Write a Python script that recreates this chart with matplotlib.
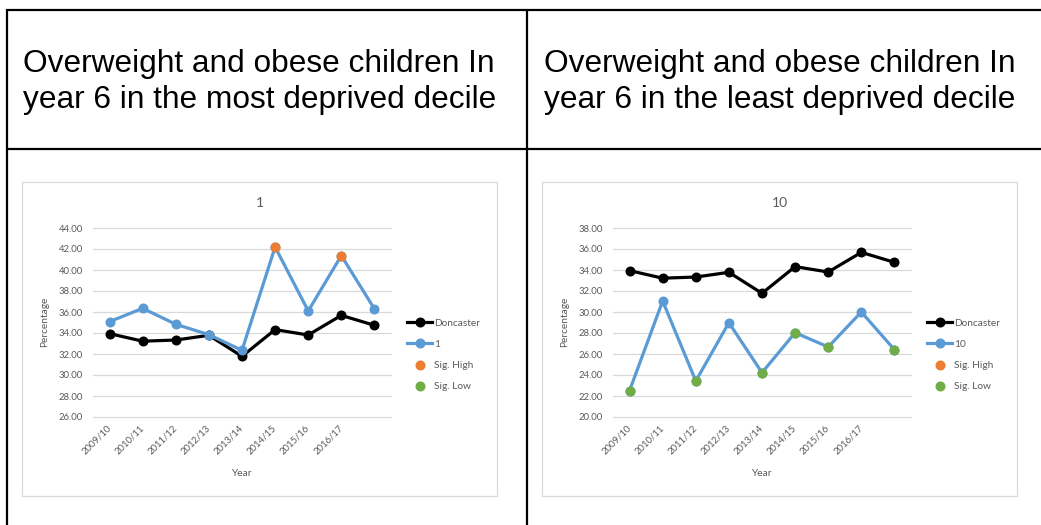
import matplotlib
matplotlib.use("Agg")
import matplotlib.pyplot as plt
from matplotlib.lines import Line2D
from matplotlib.patches import Rectangle
import numpy as np

# ---- data ----
years = ["2009/10", "2010/11", "2011/12", "2012/13", "2013/14",
         "2014/15", "2015/16", "2016/17", ""]
doncaster = [33.94, 33.22, 33.33, 33.78, 31.78, 34.32, 33.81, 35.68, 34.73]
decile_1 = [35.08, 36.35, 34.83, 33.84, 32.35, 42.19, 36.10, 41.37, 36.29]
decile_10 = [22.51, 31.05, 23.43, 28.98, 24.22, 28.03, 26.67, 30.00, 26.41]
# significance flag per year: "H" = sig. high, "L" = sig. low, "" = not sig.
sig_1 = ["", "", "", "", "", "H", "", "H", ""]
sig_10 = ["L", "", "L", "", "L", "L", "L", "", "L"]

headers = [["Overweight and obese children In", "year 6 in the most deprived decile"],
           ["Overweight and obese children In", "year 6 in the least deprived decile"]]

W, H = 1041, 525
BLUE, ORANGE, GREEN = "#5B9BD5", "#ED7D31", "#70AD47"
GREY_TXT = "#595959"
GRID = "#D9D9D9"
CHART_FONT = ["Lato", "DejaVu Sans"]

fig = plt.figure(figsize=(W / 100, H / 100), dpi=100)


def fx(x):
    return x / W


def fy(y):
    return 1 - y / H


def px_rect(left, top, width, height):
    return [left / W, 1 - (top + height) / H, width / W, height / H]


# ---- table frame ----
tbl = dict(color="black", lw=1.6, transform=fig.transFigure, solid_capstyle="butt")
fig.add_artist(Line2D([fx(6), 1.0], [fy(10), fy(10)], **tbl))
fig.add_artist(Line2D([fx(6), 1.0], [fy(149), fy(149)], **tbl))
fig.add_artist(Line2D([fx(7), fx(7)], [fy(9), 0.0], **tbl))
fig.add_artist(Line2D([fx(526.5), fx(526.5)], [fy(9), 0.0], **tbl))

for txt, x0 in zip(headers, [23, 544]):
    fig.text(fx(x0), fy(72), txt[0], fontsize=22.8, family="Liberation Sans",
             va="baseline", ha="left", color="black")
    fig.text(fx(x0), fy(108), txt[1], fontsize=22.8, family="Liberation Sans",
             va="baseline", ha="left", color="black")


def draw_chart(off, title, series, flags, ylo, yhi):
    # chart area border
    fig.add_artist(Rectangle((fx(22 + off), fy(496)), (475) / W, (314) / H,
                             transform=fig.transFigure, fill=False,
                             edgecolor=GRID, lw=0.9))
    ax = fig.add_axes(px_rect(93 + off, 228, 298, 189))
    x = np.arange(len(years))
    ax.plot(x, doncaster, color="black", lw=2.3, marker="o", ms=6.2, zorder=3)
    ax.plot(x, series, color=BLUE, lw=2.3, marker="o", ms=6.2, zorder=4)
    hi = [i for i, f in enumerate(flags) if f == "H"]
    lo = [i for i, f in enumerate(flags) if f == "L"]
    ax.plot(hi, [series[i] for i in hi], ls="none", marker="o", ms=6.2,
            color=ORANGE, zorder=5)
    ax.plot(lo, [series[i] for i in lo], ls="none", marker="o", ms=6.2,
            color=GREEN, zorder=5)

    ax.set_xlim(-0.5, len(years) - 0.5)
    ax.set_ylim(ylo, yhi)
    ax.set_yticks(np.arange(ylo, yhi + 0.1, 2))
    ax.set_yticklabels([f"{v:.2f}" for v in np.arange(ylo, yhi + 0.1, 2)],
                       family=CHART_FONT, fontsize=6.8, color=GREY_TXT)
    ax.set_xticks(x[:8])
    ax.set_xticklabels(years[:8], rotation=45, ha="right", va="center",
                       rotation_mode="anchor", family=CHART_FONT,
                       fontsize=6.8, color=GREY_TXT)
    ax.tick_params(axis="both", length=0)
    ax.tick_params(axis="y", pad=7)
    ax.tick_params(axis="x", pad=7)
    for s in ax.spines.values():
        s.set_visible(False)
    ax.grid(axis="y", color=GRID, lw=0.9)
    for gl in ax.get_ygridlines():
        gl.set_clip_on(False)
    ax.set_axisbelow(True)

    fig.text(fx(259.5 + off), fy(203), title, ha="center", va="center",
             fontsize=10, family=CHART_FONT, color=GREY_TXT)
    fig.text(fx(45 + off), fy(322), "Percentage", ha="center", va="center",
             rotation=90, fontsize=7.3, family=CHART_FONT, color=GREY_TXT)
    fig.text(fx(241 + off), fy(473), "Year", ha="center", va="center",
             fontsize=7.3, family=CHART_FONT, color=GREY_TXT)

    handles = [
        Line2D([], [], color="black", lw=2.3, marker="o", ms=6.2),
        Line2D([], [], color=BLUE, lw=2.3, marker="o", ms=6.2),
        Line2D([], [], ls="none", color=ORANGE, marker="o", ms=6.2),
        Line2D([], [], ls="none", color=GREEN, marker="o", ms=6.2),
    ]
    fig.legend(handles, ["Doncaster", title, "Sig. High", "Sig. Low"],
               loc="center left", bbox_to_anchor=(fx(407 + off), fy(355)),
               bbox_transform=fig.transFigure, frameon=False,
               prop={"family": CHART_FONT, "size": 7.3},
               labelcolor=GREY_TXT, handlelength=2.5, handletextpad=0.15,
               labelspacing=1.2, borderpad=0, borderaxespad=0)


draw_chart(0, "1", decile_1, sig_1, 26, 44)
draw_chart(520, "10", decile_10, sig_10, 20, 38)

fig.savefig("out.png", dpi=100)
